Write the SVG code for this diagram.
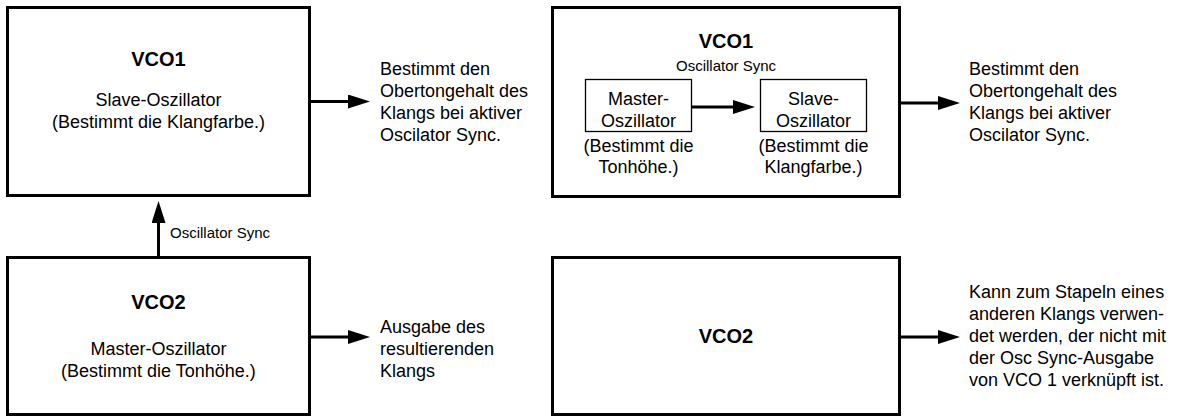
<svg xmlns="http://www.w3.org/2000/svg" width="1186" height="417" viewBox="0 0 1186 417">
  <style>
    .box { fill: #fff; stroke: #000; stroke-width: 3; }
    .sub { fill: #fff; stroke: #000; stroke-width: 1.3; }
    .wire { fill: none; stroke: #000; stroke-width: 3; marker-end: url(#head); }
    text { font-family: "Liberation Sans", Arial, Helvetica, sans-serif; fill: #000; }
    .title { font-size: 20px; font-weight: bold; text-anchor: middle; }
    .body { font-size: 18px; }
    .mid { text-anchor: middle; }
    .small { font-size: 15px; }
  </style>
  <defs>
    <marker id="head" markerUnits="userSpaceOnUse" markerWidth="22" markerHeight="14" viewBox="0 0 22 14" refX="12" refY="7" orient="auto">
      <path d="M0,0 L22,7 L0,14 Z" fill="#000"/>
    </marker>
  </defs>

  <rect width="1186" height="417" fill="#fff"/>

  <!-- Left column: VCO1 as slave -->
  <g id="vco1-slave">
    <rect class="box" x="7.5" y="7.5" width="302" height="188"/>
    <text class="title" x="158.5" y="66">VCO1</text>
    <text class="body mid" x="158.5" y="106">Slave-Oszillator</text>
    <text class="body mid" x="158.5" y="128">(Bestimmt die Klangfarbe.)</text>
  </g>
  <g id="note-vco1-slave">
    <text class="body" x="380" y="75">Bestimmt den</text>
    <text class="body" x="380" y="97">Obertongehalt des</text>
    <text class="body" x="380" y="119">Klangs bei aktiver</text>
    <text class="body" x="380" y="141">Oscilator Sync.</text>
  </g>

  <!-- Left column: VCO2 as master -->
  <g id="vco2-master">
    <rect class="box" x="7.5" y="257.5" width="302" height="157"/>
    <text class="title" x="158.5" y="309">VCO2</text>
    <text class="body mid" x="158.5" y="355">Master-Oszillator</text>
    <text class="body mid" x="158.5" y="377">(Bestimmt die Tonhöhe.)</text>
  </g>
  <g id="note-vco2-master">
    <text class="body" x="380" y="333">Ausgabe des</text>
    <text class="body" x="380" y="355">resultierenden</text>
    <text class="body" x="380" y="377">Klangs</text>
  </g>

  <!-- Right column: VCO1 containing the sync pair -->
  <g id="vco1-sync">
    <rect class="box" x="552.5" y="7.5" width="347" height="189"/>
    <text class="title" x="726" y="48">VCO1</text>
    <text class="small mid" x="726" y="71">Oscillator Sync</text>
  </g>
  <g id="master-osc">
    <rect class="sub" x="585.5" y="79.5" width="106" height="52"/>
    <text class="body mid" x="638.5" y="105">Master-</text>
    <text class="body mid" x="638.5" y="127">Oszillator</text>
    <text class="body mid" x="638.5" y="152">(Bestimmt die</text>
    <text class="body mid" x="638.5" y="173">Tonhöhe.)</text>
  </g>
  <g id="slave-osc">
    <rect class="sub" x="760.5" y="79.5" width="106" height="52"/>
    <text class="body mid" x="813.5" y="105">Slave-</text>
    <text class="body mid" x="813.5" y="127">Oszillator</text>
    <text class="body mid" x="813.5" y="152">(Bestimmt die</text>
    <text class="body mid" x="813.5" y="173">Klangfarbe.)</text>
  </g>
  <g id="note-vco1-sync">
    <text class="body" x="969" y="75">Bestimmt den</text>
    <text class="body" x="969" y="97">Obertongehalt des</text>
    <text class="body" x="969" y="119">Klangs bei aktiver</text>
    <text class="body" x="969" y="141">Oscilator Sync.</text>
  </g>

  <!-- Right column: free-running VCO2 -->
  <g id="vco2-free">
    <rect class="box" x="552.5" y="257.5" width="347" height="157"/>
    <text class="title" x="726" y="343">VCO2</text>
  </g>
  <g id="note-vco2-free">
    <text class="body" x="969" y="298">Kann zum Stapeln eines</text>
    <text class="body" x="969" y="320">anderen Klangs verwen-</text>
    <text class="body" x="969" y="342">det werden, der nicht mit</text>
    <text class="body" x="969" y="364">der Osc Sync-Ausgabe</text>
    <text class="body" x="969" y="386">von VCO 1 verknüpft ist.</text>
  </g>

  <!-- Connectors, drawn last so they sit above the box fills -->
  <g id="connectors">
    <line class="wire" x1="309.5" y1="101.5" x2="360" y2="101.5"/>
    <line class="wire" x1="158.5" y1="257" x2="158.5" y2="211"/>
    <line class="wire" x1="309.5" y1="337" x2="360" y2="337"/>
    <line class="wire" x1="691.5" y1="107" x2="745" y2="107"/>
    <line class="wire" x1="899.5" y1="103" x2="950" y2="103"/>
    <line class="wire" x1="899.5" y1="337" x2="950" y2="337"/>
    <text class="small" x="170" y="238">Oscillator Sync</text>
  </g>
</svg>
